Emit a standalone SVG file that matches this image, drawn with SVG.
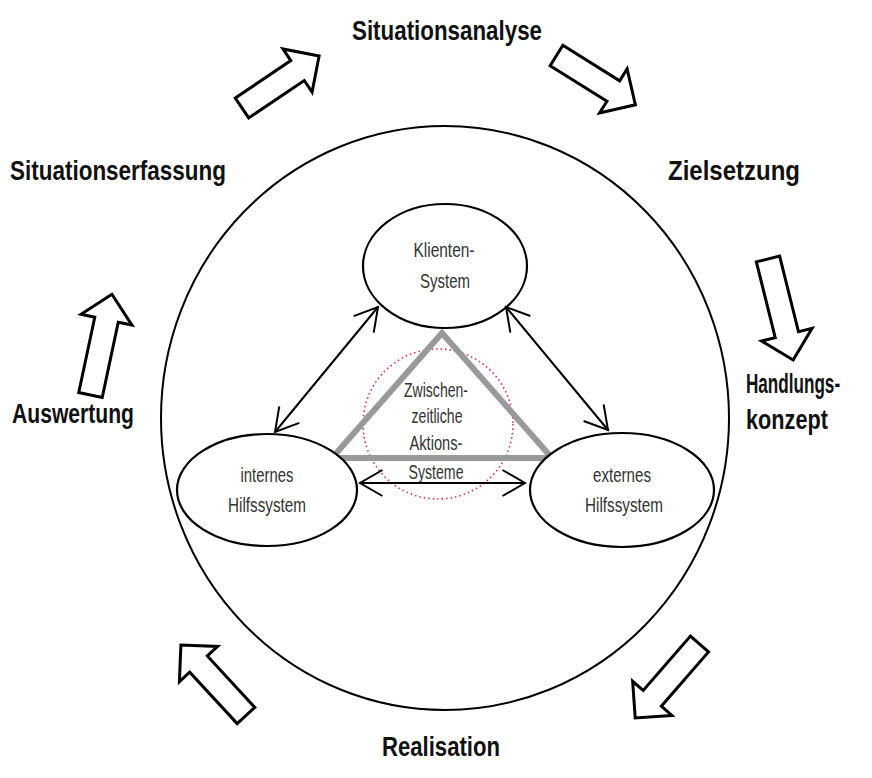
<svg xmlns="http://www.w3.org/2000/svg" width="872" height="778" viewBox="0 0 872 778">
<style>
.lbl{font-family:"Liberation Sans Narrow","Liberation Sans",Arial,sans-serif;font-weight:bold;font-size:27px;fill:#111}
.in{font-family:"Liberation Sans Narrow","Liberation Sans",Arial,sans-serif;font-size:21px;fill:#333;text-anchor:middle}
.blk{fill:#fff;stroke:#000;stroke-width:3;stroke-linejoin:miter}
.ell{fill:#fff;stroke:#000;stroke-width:2.2}
.con{stroke:#000;stroke-width:2;fill:none}
</style>
<defs>
<marker id="v" viewBox="-2 -15 27 30" refX="22.5" refY="0" markerWidth="27" markerHeight="30" markerUnits="userSpaceOnUse" orient="auto-start-reverse">
<path d="M0,-13 L22.5,0 L0,13" fill="none" stroke="#000" stroke-width="2"/>
</marker>
</defs>
<rect width="872" height="778" fill="#fff"/>
<g id="outer-circle"><ellipse cx="445" cy="418" rx="284" ry="292" fill="none" stroke="#000" stroke-width="2"/></g>
<g id="cycle-arrows">
<path class="blk" transform="translate(242,108) rotate(-34)" d="M0,-12 H67 V-26 L93,0 L67,26 V12 H0 Z"/>
<path class="blk" transform="translate(556.5,55.5) rotate(32)" d="M0,-12 H67 V-26 L93,0 L67,26 V12 H0 Z"/>
<path class="blk" transform="translate(768,259) rotate(76)" d="M0,-12 H78 V-26 L104,0 L78,26 V12 H0 Z"/>
<path class="blk" transform="translate(699.5,644) rotate(131)" d="M0,-12 H72 V-26 L98,0 L72,26 V12 H0 Z"/>
<path class="blk" transform="translate(246,715.5) rotate(-132.7)" d="M0,-12 H70 V-26 L96,0 L70,26 V12 H0 Z"/>
<path class="blk" transform="translate(90.5,395) rotate(-78)" d="M0,-12 H77 V-26 L103,0 L77,26 V12 H0 Z"/>
</g>
<g id="labels">
<text class="lbl" x="352" y="40" textLength="190" lengthAdjust="spacingAndGlyphs">Situationsanalyse</text>
<text class="lbl" x="10" y="180" textLength="216" lengthAdjust="spacingAndGlyphs">Situationserfassung</text>
<text class="lbl" x="668" y="180" textLength="132" lengthAdjust="spacingAndGlyphs">Zielsetzung</text>
<g transform="translate(746,0) scale(0.64,1)">
<text class="lbl" x="0" y="393" textLength="147" lengthAdjust="spacingAndGlyphs">Handlungs-</text>
<text class="lbl" x="0" y="429" textLength="128" lengthAdjust="spacingAndGlyphs">konzept</text>
</g>
<text class="lbl" x="12" y="423" textLength="122" lengthAdjust="spacingAndGlyphs">Auswertung</text>
<text class="lbl" x="382" y="756" textLength="118" lengthAdjust="spacingAndGlyphs">Realisation</text>
</g>
<g id="center">
<circle cx="438" cy="424" r="75" fill="none" stroke="#d8303c" stroke-width="1.6" stroke-dasharray="1.5 3"/>
<polygon points="442,333 332,458 552,458" fill="none" stroke="#999" stroke-width="6"/>
<text class="in" x="436" y="397" textLength="64" lengthAdjust="spacingAndGlyphs">Zwischen-</text>
<text class="in" x="437" y="423" textLength="51" lengthAdjust="spacingAndGlyphs">zeitliche</text>
<text class="in" x="436" y="450" textLength="53" lengthAdjust="spacingAndGlyphs">Aktions-</text>
<text class="in" x="436" y="479" textLength="55" lengthAdjust="spacingAndGlyphs">Systeme</text>
</g>
<g id="klienten">
<ellipse class="ell" cx="445" cy="266" rx="82" ry="62"/>
<text class="in" x="444" y="257" textLength="61" lengthAdjust="spacingAndGlyphs">Klienten-</text>
<text class="in" x="445" y="288" textLength="50" lengthAdjust="spacingAndGlyphs">System</text>
</g>
<g id="internes">
<ellipse class="ell" cx="267" cy="490" rx="90" ry="56"/>
<text class="in" x="267" y="482" textLength="53" lengthAdjust="spacingAndGlyphs">internes</text>
<text class="in" x="267" y="512" textLength="78" lengthAdjust="spacingAndGlyphs">Hilfssystem</text>
</g>
<g id="externes">
<ellipse class="ell" cx="622" cy="490" rx="92" ry="57"/>
<text class="in" x="622" y="482" textLength="58" lengthAdjust="spacingAndGlyphs">externes</text>
<text class="in" x="624" y="512" textLength="78" lengthAdjust="spacingAndGlyphs">Hilfssystem</text>
</g>
<g id="connectors">
<line class="con" x1="378" y1="307" x2="275" y2="432" marker-start="url(#v)" marker-end="url(#v)"/>
<line class="con" x1="506" y1="307" x2="608" y2="430" marker-start="url(#v)" marker-end="url(#v)"/>
<line class="con" x1="360" y1="483" x2="525" y2="483" marker-start="url(#v)" marker-end="url(#v)"/>
</g>
</svg>
